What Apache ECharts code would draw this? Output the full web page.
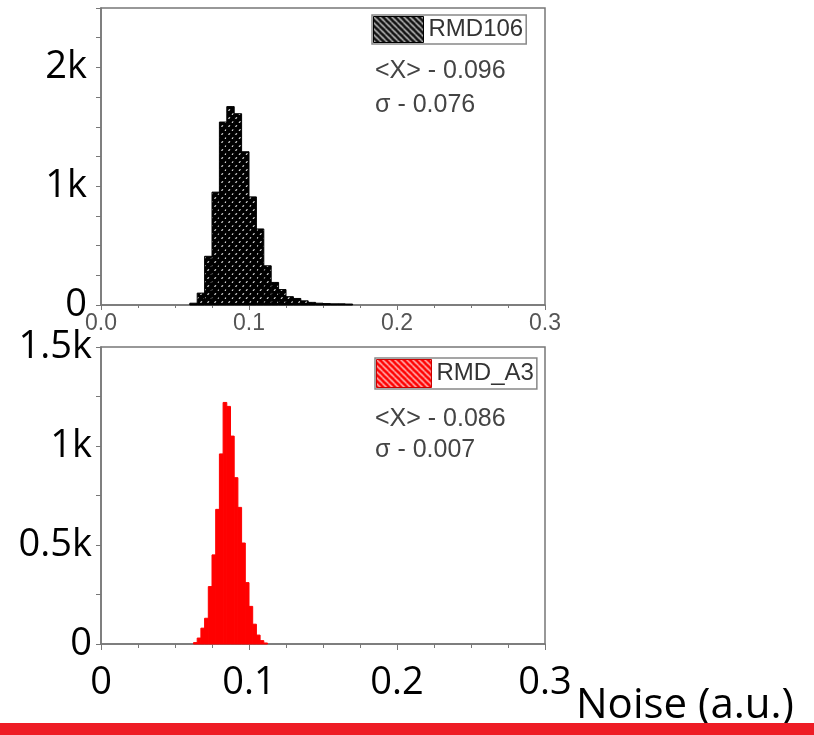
<!DOCTYPE html>
<html>
<head>
<meta charset="utf-8">
<script src="https://cdn.jsdelivr.net/npm/echarts@6/dist/echarts.min.js"></script>
<style>html,body{margin:0;padding:0;background:#fff}#c{width:814px;height:735px}</style>
</head>
<body>
<div id="c"></div>
<script>
// ---- data ----
const topName = 'RMD106';
const bottomName = 'RMD_A3';
const topBinStart = [0.060,0.065,0.070,0.075,0.080,0.085,0.090,0.095,0.100,0.105,0.110,0.115,0.120,0.125,0.130,0.135,0.140,0.145,0.150,0.155,0.160,0.165];
const topCounts   = [15,100,410,950,1540,1670,1610,1290,910,640,330,190,130,70,55,35,22,15,12,10,10,8];
const topBinWidth = 0.005;
const bottomBinStart = [0.0625,0.065,0.0675,0.07,0.0725,0.075,0.0775,0.08,0.0825,0.085,0.0875,0.09,0.0925,0.095,0.0975,0.1,0.1025,0.105,0.1075,0.11];
const bottomCounts   = [7,30,80,130,290,450,680,960,1220,1200,1050,840,690,510,310,190,100,45,17,5];
const bottomBinWidth = 0.0025;
const topStats = ['<X> - 0.096', 'σ - 0.076'];
const bottomStats = ['<X> - 0.086', 'σ - 0.007'];
const xAxisName = 'Noise (a.u.)';

// ---- patterns ----
function dotsPattern() {
  const c = document.createElement('canvas'); c.width = 7; c.height = 8;
  const g = c.getContext('2d');
  g.fillStyle = '#000'; g.fillRect(0, 0, 7, 8);
  g.fillStyle = '#ddd';
  [[1.75, 2], [5.25, 6]].forEach(p => { g.beginPath(); g.ellipse(p[0], p[1], 1.3, 0.6, -Math.PI / 4, 0, Math.PI * 2); g.fill(); });
  return { image: c, repeat: 'repeat' };
}
function stripes(bg, fg) {
  const c = document.createElement('canvas'); c.width = 6; c.height = 6;
  const g = c.getContext('2d');
  g.fillStyle = bg; g.fillRect(0, 0, 6, 6);
  g.strokeStyle = fg; g.lineWidth = 1.3;
  [-6, 0, 6].forEach(o => { g.beginPath(); g.moveTo(o, 0); g.lineTo(o + 6, 6); g.stroke(); });
  return { image: c, repeat: 'repeat' };
}
const dots = dotsPattern();
const blackStripes = stripes('#111', '#ddd');
const redStripes = stripes('#f00', '#fdd');

function histData(starts, counts, w) { return starts.map((s, i) => [s, s + w, counts[i]]); }
function makeRender(fill, stroke) {
  return function (params, api) {
    const p0 = api.coord([api.value(0), api.value(2)]);
    const p1 = api.coord([api.value(1), 0]);
    return { type: 'rect', shape: { x: p0[0], y: p0[1], width: p1[0] - p0[0], height: p1[1] - p0[1] },
      style: { fill: fill, stroke: stroke, lineWidth: 1 } };
  };
}

const big = { fontFamily: 'Open Sans', fontSize: 38, color: '#000' };
const axisLine = { show: true, lineStyle: { color: '#777', width: 1.5 } };

const chart = echarts.init(document.getElementById('c'));
chart.setOption({
  animation: false,
  grid: [
    { left: 101, right: 269, top: 8, height: 297, show: true, borderColor: '#777', borderWidth: 1.5 },
    { left: 101, right: 269, top: 347, height: 297, show: true, borderColor: '#777', borderWidth: 1.5 }
  ],
  xAxis: [
    { gridIndex: 0, type: 'value', min: 0, max: 0.3, interval: 0.1, axisLine: axisLine,
      axisTick: { length: 5, lineStyle: { color: '#777' } }, minorTick: { show: true, splitNumber: 4, length: 3, lineStyle: { color: '#777' } },
      splitLine: { show: false },
      axisLabel: { margin: 7, fontFamily: 'Liberation Sans', fontSize: 23, color: '#555', formatter: v => v.toFixed(1) } },
    { gridIndex: 1, type: 'value', min: 0, max: 0.3, interval: 0.1, axisLine: axisLine,
      axisTick: { length: 6, lineStyle: { color: '#777' } }, minorTick: { show: true, splitNumber: 4, length: 4, lineStyle: { color: '#777' } },
      splitLine: { show: false },
      axisLabel: Object.assign({ margin: 20, formatter: v => v === 0 ? '0' : v.toFixed(1) }, big) }
  ],
  yAxis: [
    { gridIndex: 0, type: 'value', min: 0, max: 2500, interval: 250, axisLine: axisLine,
      axisTick: { length: 5, lineStyle: { color: '#777' } }, splitLine: { show: false },
      axisLabel: Object.assign({ margin: 14, formatter: v => v % 1000 === 0 ? (v === 0 ? '0' : (v / 1000) + 'k') : '' }, big) },
    { gridIndex: 1, type: 'value', min: 0, max: 1500, interval: 250, axisLine: axisLine,
      axisTick: { length: 5, lineStyle: { color: '#777' } }, splitLine: { show: false },
      axisLabel: Object.assign({ margin: 9, formatter: v => v % 500 === 0 ? (v === 0 ? '0' : (v / 1000) + 'k') : '' }, big) }
  ],
  legend: [
    { data: [{ name: topName, itemStyle: { color: blackStripes, borderColor: '#000', borderWidth: 1 } }],
      left: 372, top: 15, icon: 'rect', itemWidth: 50, itemHeight: 26, padding: [1, 3, 1, 1], selectedMode: false,
      borderColor: '#888', borderWidth: 1.5, backgroundColor: '#fff',
      textStyle: { fontFamily: 'Liberation Sans', fontSize: 24, color: '#333' } },
    { data: [{ name: bottomName, itemStyle: { color: redStripes, borderColor: '#c00', borderWidth: 1 } }],
      left: 375, top: 358, icon: 'rect', itemWidth: 55, itemHeight: 28, padding: [1, 3, 1, 1], selectedMode: false,
      borderColor: '#888', borderWidth: 1.5, backgroundColor: '#fff',
      textStyle: { fontFamily: 'Liberation Sans', fontSize: 24, color: '#333' } }
  ],
  series: [
    { name: topName, type: 'custom', xAxisIndex: 0, yAxisIndex: 0, itemStyle: { color: blackStripes },
      renderItem: makeRender(dots, '#000'), encode: { x: [0, 1], y: 2 },
      data: histData(topBinStart, topCounts, topBinWidth) },
    { name: bottomName, type: 'custom', xAxisIndex: 1, yAxisIndex: 1, itemStyle: { color: redStripes },
      renderItem: makeRender('#ff0000', '#ff0000'), encode: { x: [0, 1], y: 2 },
      data: histData(bottomBinStart, bottomCounts, bottomBinWidth) }
  ],
  graphic: [
    { type: 'text', left: 375, top: 59, style: { text: topStats[0], font: '25px "Liberation Sans"', fill: '#444' } },
    { type: 'text', left: 375, top: 93, style: { text: topStats[1], font: '25px "Liberation Sans"', fill: '#444' } },
    { type: 'text', left: 375, top: 407, style: { text: bottomStats[0], font: '25px "Liberation Sans"', fill: '#444' } },
    { type: 'text', left: 375, top: 438, style: { text: bottomStats[1], font: '25px "Liberation Sans"', fill: '#444' } },
    { type: 'text', left: 576, top: 685, style: { text: xAxisName, font: '42px "Open Sans"', fill: '#000' } },
    { type: 'rect', left: 0, top: 723, shape: { width: 814, height: 12 }, style: { fill: '#ee1c25' } }
  ]
});
</script>
</body>
</html>
